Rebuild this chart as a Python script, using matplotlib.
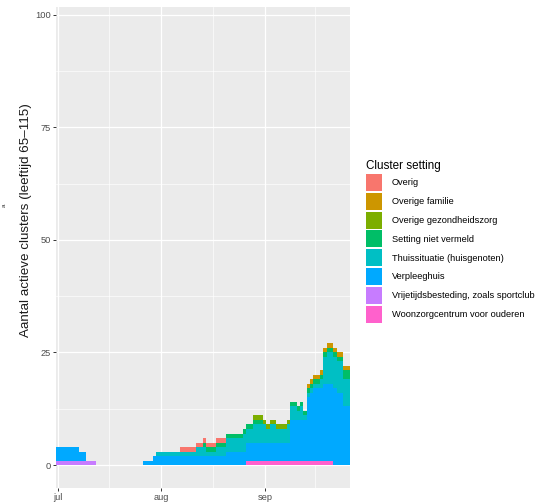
import matplotlib
matplotlib.use('Agg')
import matplotlib.pyplot as plt
import matplotlib.dates as mdates
from matplotlib.patches import Patch
import pandas as pd

plt.rcParams['font.family'] = ['Liberation Sans', 'DejaVu Sans']

# one value per day, 1 jul - 26 sep
dates = pd.date_range('2020-07-01', periods=88)

woonzorg = [0, 0, 0, 0, 0, 0, 0, 0, 0, 0,
            0, 0, 0, 0, 0, 0, 0, 0, 0, 0,
            0, 0, 0, 0, 0, 0, 0, 0, 0, 0,
            0, 0, 0, 0, 0, 0, 0, 0, 0, 0,
            0, 0, 0, 0, 0, 0, 0, 0, 0, 0,
            0, 0, 0, 0, 0, 0, 0, 1, 1, 1,
            1, 1, 1, 1, 1, 1, 1, 1, 1, 1,
            1, 1, 1, 1, 1, 1, 1, 1, 1, 1,
            1, 1, 1, 0, 0, 0, 0, 0]
vrije_tijd = [1, 1, 1, 1, 1, 1, 1, 1, 1, 1,
              1, 1, 0, 0, 0, 0, 0, 0, 0, 0,
              0, 0, 0, 0, 0, 0, 0, 0, 0, 0,
              0, 0, 0, 0, 0, 0, 0, 0, 0, 0,
              0, 0, 0, 0, 0, 0, 0, 0, 0, 0,
              0, 0, 0, 0, 0, 0, 0, 0, 0, 0,
              0, 0, 0, 0, 0, 0, 0, 0, 0, 0,
              0, 0, 0, 0, 0, 0, 0, 0, 0, 0,
              0, 0, 0, 0, 0, 0, 0, 0]
verpleeghuis = [3, 3, 3, 3, 3, 3, 3, 2, 2, 0,
                0, 0, 0, 0, 0, 0, 0, 0, 0, 0,
                0, 0, 0, 0, 0, 0, 1, 1, 1, 2,
                2, 2, 2, 2, 2, 2, 2, 2, 2, 2,
                2, 2, 2, 2, 2, 2, 2, 2, 2, 2,
                2, 3, 3, 3, 3, 3, 3, 4, 4, 4,
                4, 4, 4, 4, 4, 4, 4, 4, 4, 4,
                9, 9, 9, 9, 9, 14, 15, 16, 16, 16,
                17, 17, 17, 17, 16, 16, 13, 13]
thuis = [0, 0, 0, 0, 0, 0, 0, 0, 0, 0,
         0, 0, 0, 0, 0, 0, 0, 0, 0, 0,
         0, 0, 0, 0, 0, 0, 0, 0, 0, 0,
         1, 1, 1, 1, 1, 1, 1, 1, 1, 1,
         1, 1, 2, 2, 2, 1, 1, 1, 2, 2,
         2, 3, 3, 3, 3, 3, 4, 3, 3, 4,
         4, 4, 4, 3, 4, 4, 3, 3, 3, 4,
         3, 3, 2, 3, 1, 1, 1, 1, 1, 2,
         6, 7, 7, 7, 7, 7, 6, 6]
niet_vermeld = [0, 0, 0, 0, 0, 0, 0, 0, 0, 0,
                0, 0, 0, 0, 0, 0, 0, 0, 0, 0,
                0, 0, 0, 0, 0, 0, 0, 0, 0, 0,
                0, 0, 0, 0, 0, 0, 0, 0, 0, 0,
                0, 0, 0, 0, 1, 1, 1, 1, 1, 1,
                1, 1, 1, 1, 1, 1, 1, 1, 1, 1,
                1, 1, 0, 0, 0, 0, 0, 0, 0, 0,
                1, 1, 1, 1, 1, 1, 1, 1, 1, 1,
                1, 1, 1, 1, 1, 1, 2, 2]
gezondheidszorg = [0, 0, 0, 0, 0, 0, 0, 0, 0, 0,
                   0, 0, 0, 0, 0, 0, 0, 0, 0, 0,
                   0, 0, 0, 0, 0, 0, 0, 0, 0, 0,
                   0, 0, 0, 0, 0, 0, 0, 0, 0, 0,
                   0, 0, 0, 0, 0, 0, 0, 0, 0, 0,
                   0, 0, 0, 0, 0, 0, 0, 0, 0, 1,
                   1, 1, 1, 1, 1, 1, 1, 1, 1, 1,
                   0, 0, 0, 0, 0, 0, 0, 0, 0, 0,
                   0, 0, 0, 0, 0, 0, 0, 0]
familie = [0, 0, 0, 0, 0, 0, 0, 0, 0, 0,
           0, 0, 0, 0, 0, 0, 0, 0, 0, 0,
           0, 0, 0, 0, 0, 0, 0, 0, 0, 0,
           0, 0, 0, 0, 0, 0, 0, 0, 0, 0,
           0, 0, 0, 0, 0, 0, 0, 0, 0, 0,
           0, 0, 0, 0, 0, 0, 0, 0, 0, 0,
           0, 0, 0, 0, 0, 0, 0, 0, 0, 0,
           0, 0, 0, 0, 0, 1, 1, 1, 1, 1,
           1, 1, 1, 1, 1, 1, 1, 1]
overig = [0, 0, 0, 0, 0, 0, 0, 0, 0, 0,
          0, 0, 0, 0, 0, 0, 0, 0, 0, 0,
          0, 0, 0, 0, 0, 0, 0, 0, 0, 0,
          0, 0, 0, 0, 0, 0, 0, 1, 1, 1,
          1, 1, 1, 1, 1, 1, 1, 1, 1, 1,
          1, 0, 0, 0, 0, 0, 0, 0, 0, 0,
          0, 0, 0, 0, 0, 0, 0, 0, 0, 0,
          0, 0, 0, 0, 0, 0, 0, 0, 0, 0,
          0, 0, 0, 0, 0, 0, 0, 0]

labels = ['Overig', 'Overige familie', 'Overige gezondheidszorg',
          'Setting niet vermeld', 'Thuissituatie (huisgenoten)', 'Verpleeghuis',
          'Vrijetijdsbesteding, zoals sportclub', 'Woonzorgcentrum voor ouderen']
colors = ['#F8766D', '#CD9600', '#7CAE00', '#00BE67',
          '#00BFC4', '#00A9FF', '#C77CFF', '#FF61CC']
# same order as the legend; stacked from the last one up
series = [overig, familie, gezondheidszorg, niet_vermeld,
          thuis, verpleeghuis, vrije_tijd, woonzorg]

fig = plt.figure(figsize=(5.39, 5.04), dpi=100)
ax = fig.add_axes([56 / 539, 1 - 488 / 504, 294 / 539, 481 / 504])
ax.set_facecolor('#EBEBEB')

bottom = [0] * len(dates)
for vals, c in zip(series[::-1], colors[::-1]):
    ax.bar(dates, vals, width=1.0, bottom=bottom, color=c, linewidth=0,
           antialiased=False, zorder=3)
    bottom = [b + v for b, v in zip(bottom, vals)]

x0 = mdates.date2num(dates[0])
ax.set_xlim(x0 - 0.5, mdates.date2num(dates[-1]) + 0.5)
ax.set_ylim(-5.1, 101.7)

months = pd.to_datetime(['2020-07-01', '2020-08-01', '2020-09-01', '2020-10-01'])
mnum = mdates.date2num(months)
ax.set_xticks(mnum[:3])
ax.set_xticklabels(['jul', 'aug', 'sep'])
ax.set_xticks([(a + b) / 2 for a, b in zip(mnum[:-1], mnum[1:])], minor=True)
ax.set_yticks([0, 25, 50, 75, 100])
ax.set_yticks([12.5, 37.5, 62.5, 87.5], minor=True)

ax.grid(which='major', color='white', linewidth=0.9, zorder=0)
ax.grid(which='minor', color='white', linewidth=0.45, zorder=0)
ax.set_axisbelow(True)
for s in ax.spines.values():
    s.set_visible(False)
ax.tick_params(which='major', length=2.2, width=0.7, color='#333333',
               labelsize=6.7, labelcolor='#4D4D4D', pad=1.5)
ax.tick_params(which='minor', length=0)

ax.set_ylabel('Aantal actieve clusters (leeftijd 65\u2013115)', fontsize=9.6, color='#1A1A1A')
ax.yaxis.set_label_coords(-0.082, 0.557)

fig.text(4 / 539, 1 - 205 / 504, 'a', fontsize=4.5, rotation=90,
         ha='center', va='center', color='#333333')

handles = [Patch(facecolor=c, edgecolor='none') for c in colors]
leg = fig.legend(handles, labels, loc='upper left',
                 bbox_to_anchor=(366 / 539, 1 - 160 / 504),
                 bbox_transform=fig.transFigure, frameon=False,
                 title='Cluster setting', fontsize=6.7, title_fontsize=8.4,
                 handlelength=1.75, handleheight=2.43, labelspacing=0.2,
                 handletextpad=1.0, borderpad=0, borderaxespad=0,
                 alignment='left')

fig.savefig('out.png', dpi=100)
